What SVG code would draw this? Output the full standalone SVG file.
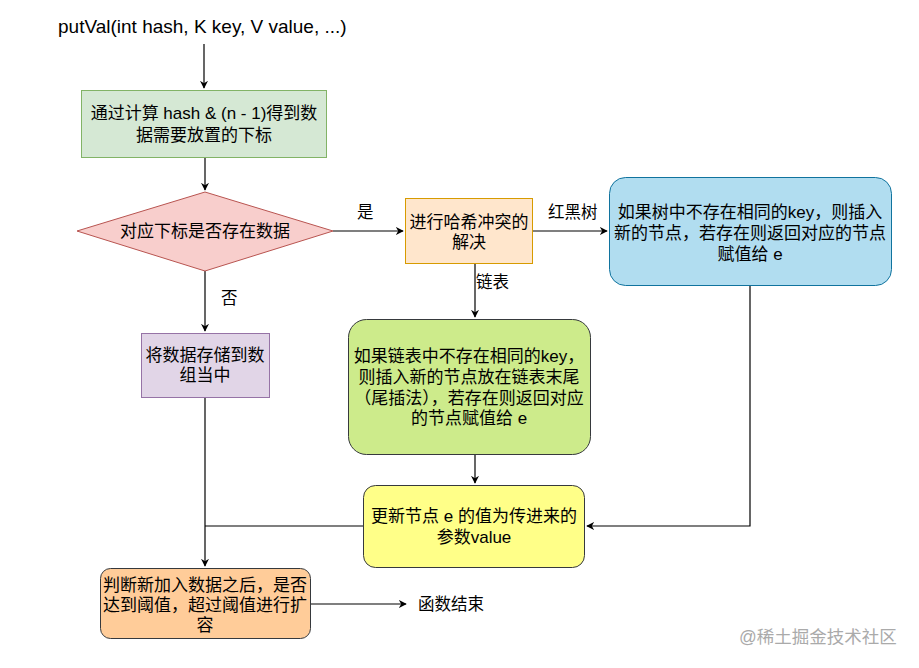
<svg xmlns="http://www.w3.org/2000/svg" width="919" height="668" viewBox="0 0 919 668">
<style>
text{font-family:"Liberation Sans","Noto Sans CJK SC",sans-serif;font-size:17px;fill:#000;text-anchor:middle;}
.t{font-size:19px;text-anchor:start;}
.lbl{text-anchor:start;font-size:16.5px;}
.wm{font-size:17.5px;fill:#aaa;text-anchor:start;}
.ln{fill:none;stroke:#000;stroke-width:1.2;}
</style>
<defs>
<marker id="ah" viewBox="0 0 10 10" refX="9" refY="5" markerWidth="8" markerHeight="8" markerUnits="userSpaceOnUse" orient="auto">
<path d="M0,0 L10,5 L0,10 L3,5 Z" fill="#000"/>
</marker>
</defs>
<rect width="919" height="668" fill="#fff"/>
<g id="connectors">
<path class="ln" d="M204,44 V88" marker-end="url(#ah)"/>
<path class="ln" d="M205,158 V190" marker-end="url(#ah)"/>
<path class="ln" d="M333,231 H403" marker-end="url(#ah)"/>
<path class="ln" d="M532,231 H607" marker-end="url(#ah)"/>
<path class="ln" d="M475,263 V317" marker-end="url(#ah)"/>
<path class="ln" d="M205,271 V331" marker-end="url(#ah)"/>
<path class="ln" d="M475,454 V483" marker-end="url(#ah)"/>
<path class="ln" d="M750,285 V526 H587" marker-end="url(#ah)"/>
<path class="ln" d="M205,397 V566" marker-end="url(#ah)"/>
<path class="ln" d="M363,526 H205"/>
<path class="ln" d="M311,604 H406" marker-end="url(#ah)"/>
<text class="lbl" x="357" y="218">是</text>
<text class="lbl" x="548" y="218">红黑树</text>
<text class="lbl" x="476" y="288">链表</text>
<text class="lbl" x="221" y="304">否</text>
</g>
<g id="title"><text class="t" x="58" y="33">putVal(int hash, K key, V value, ...)</text></g>
<g id="calcIndex">
<rect x="81.5" y="90.5" width="245" height="67" fill="#d5e8d4" stroke="#82b366"/>
<text x="204" y="119">通过计算 hash &amp; (n - 1)得到数</text>
<text x="204" y="141">据需要放置的下标</text>
</g>
<g id="hasData">
<path d="M205,192 L333,231 L205,271 L77,231 Z" fill="#f8cecc" stroke="#b85450"/>
<text x="205" y="237">对应下标是否存在数据</text>
</g>
<g id="resolve">
<rect x="405.5" y="198.5" width="127" height="65" fill="#ffe6cc" stroke="#d79b00"/>
<text x="469" y="228">进行哈希冲突的</text>
<text x="469" y="248">解决</text>
</g>
<g id="treeNode">
<rect x="609.5" y="177.5" width="282" height="108" rx="16" fill="#b1ddf0" stroke="#10739e"/>
<text x="750" y="218">如果树中不存在相同的key，则插入</text>
<text x="750" y="239">新的节点，若存在则返回对应的节点</text>
<text x="750" y="260">赋值给 e</text>
</g>
<g id="listNode">
<rect x="348.5" y="319.5" width="242" height="135" rx="18" fill="#cdeb8b" stroke="#36393d"/>
<text x="469" y="362">如果链表中不存在相同的key，</text>
<text x="469" y="383">则插入新的节点放在链表末尾</text>
<text x="469" y="404">（尾插法），若存在则返回对应</text>
<text x="469" y="424">的节点赋值给 e</text>
</g>
<g id="storeArray">
<rect x="141.5" y="333.5" width="128" height="64" fill="#e1d5e7" stroke="#9673a6"/>
<text x="205" y="361">将数据存储到数</text>
<text x="205" y="381">组当中</text>
</g>
<g id="updateValue">
<rect x="363.5" y="485.5" width="221" height="82" rx="12" fill="#ffff88" stroke="#36393d"/>
<text x="474" y="522">更新节点 e 的值为传进来的</text>
<text x="474" y="543">参数value</text>
</g>
<g id="resize">
<rect x="100.5" y="568.5" width="210" height="70" rx="10" fill="#ffcc99" stroke="#36393d"/>
<text x="205" y="591">判断新加入数据之后，是否</text>
<text x="205" y="611">达到阈值，超过阈值进行扩</text>
<text x="205" y="631">容</text>
</g>
<g id="end"><text class="lbl" x="418" y="610">函数结束</text></g>
<text class="wm" x="739" y="643">@稀土掘金技术社区</text>
</svg>
